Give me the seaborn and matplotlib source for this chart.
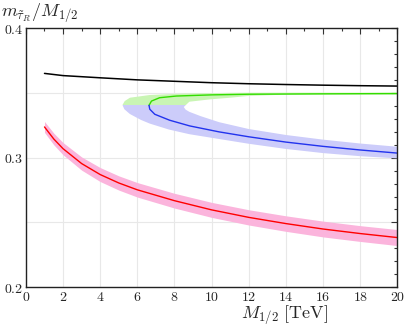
import numpy as np
import pandas as pd
import seaborn as sns
import matplotlib.pyplot as plt
from matplotlib.patches import Rectangle
from matplotlib.ticker import MultipleLocator, FuncFormatter

# black curve
black_x = [1, 2, 4, 6, 8, 10, 12, 14, 16, 18, 20]
black_y = [0.3652, 0.3635, 0.3618, 0.3602, 0.3591, 0.3580, 0.3572, 0.3566, 0.3561, 0.3557, 0.3554]

# red curve with pink band
red_x = [1, 1.5, 2, 3, 4, 5, 6, 8, 10, 12, 14, 16, 18, 20]
red_y = [0.3238, 0.3145, 0.3070, 0.2955, 0.2870, 0.2805, 0.2752, 0.2668, 0.2597,
         0.2539, 0.2491, 0.2449, 0.2414, 0.2383]
red_hi = [0.3280, 0.3190, 0.3117, 0.3006, 0.2924, 0.2860, 0.2808, 0.2725, 0.2655,
          0.2598, 0.2551, 0.2510, 0.2475, 0.2445]
red_lo = [0.3196, 0.3100, 0.3023, 0.2904, 0.2816, 0.2750, 0.2696, 0.2611, 0.2539,
          0.2480, 0.2431, 0.2388, 0.2353, 0.2321]

# green (upper) and blue (lower) branches of the folded curve
green_x = [20, 16, 12, 10, 8.1, 7.2, 6.76, 6.63]
green_y = [0.3496, 0.3494, 0.3491, 0.3486, 0.3477, 0.3464, 0.3438, 0.3405]
blue_x = [6.63, 6.67, 6.94, 7.74, 8.82, 10.4, 12, 14, 16, 18, 20]
blue_y = [0.3405, 0.3375, 0.3336, 0.3290, 0.3246, 0.3200, 0.3162, 0.3121, 0.3088, 0.3060, 0.3036]

# band around the folded curve: outer and inner edges
outer_top_x = [20, 14, 11, 8.5, 6.67, 5.6, 5.32, 5.2]
outer_top_y = [0.3503, 0.3503, 0.3502, 0.3496, 0.3485, 0.3464, 0.3438, 0.3408]
outer_bot_x = [5.2, 5.3, 5.6, 6.2, 6.67, 7.7, 8.8, 10.4, 12, 14, 16, 18, 20]
outer_bot_y = [0.3408, 0.3375, 0.3338, 0.3292, 0.3264, 0.3218, 0.3182, 0.3145, 0.3108,
               0.3068, 0.3036, 0.3012, 0.2995]
inner_bot_x = [20, 18, 16, 14, 12, 10.4, 9.4, 8.8, 8.6, 8.5]
inner_bot_y = [0.3085, 0.3110, 0.3140, 0.3176, 0.3222, 0.3275, 0.3322, 0.3355, 0.3372, 0.3392]
inner_top_x = [8.5, 8.8, 9.9, 11, 12, 14, 20]
inner_top_y = [0.3392, 0.3433, 0.3451, 0.3464, 0.3478, 0.3488, 0.3489]
split_y = 0.3405

sns.set_theme(style="white")
plt.rcParams["mathtext.fontset"] = "cm"
plt.rcParams["font.family"] = ["DejaVu Serif"]

fig = plt.figure(figsize=(4.05, 3.30), dpi=100)
ax = fig.add_axes([0.064, 0.130, 0.917, 0.784])

# grid
ax.set_xticks(np.arange(0, 21, 2))
ax.set_yticks(np.arange(0.2, 0.401, 0.05))
ax.grid(True, color="#e8e8e8", linewidth=0.8)
ax.set_axisbelow(True)

# pink band + red line
ax.fill_between(red_x, red_lo, red_hi, color="#fbb4dc", linewidth=0)
sns.lineplot(x=red_x, y=red_y, color="#ff0000", linewidth=1.0, ax=ax, sort=False)

# folded band, green above the split, blue below
poly_x = outer_top_x + outer_bot_x + inner_bot_x + inner_top_x
poly_y = outer_top_y + outer_bot_y + inner_bot_y + inner_top_y
for col, y0, y1 in [("#c9f5b4", split_y, 0.4), ("#ccccfa", 0.2, split_y)]:
    patch = ax.fill(poly_x, poly_y, color=col, linewidth=0)[0]
    clip = Rectangle((0, y0), 20, y1 - y0, transform=ax.transData)
    patch.set_clip_path(clip)

sns.lineplot(x=green_x, y=green_y, color="#33dd00", linewidth=1.0, ax=ax, sort=False)
sns.lineplot(x=blue_x, y=blue_y, color="#2233ee", linewidth=1.0, ax=ax, sort=False)
sns.lineplot(x=black_x, y=black_y, color="black", linewidth=1.1, ax=ax, sort=False)

ax.set_xlim(0, 20)
ax.set_ylim(0.2, 0.4)
ax.xaxis.set_minor_locator(MultipleLocator(1))
ax.yaxis.set_minor_locator(MultipleLocator(0.01))
ax.xaxis.set_major_formatter(FuncFormatter(lambda v, p: f"${v:g}$"))
ax.yaxis.set_major_formatter(FuncFormatter(
    lambda v, p: f"${v:.1f}$" if abs(v * 10 - round(v * 10)) < 1e-6 else ""))
ax.tick_params(which="both", direction="in", top=True, right=True,
               color="#333333", labelsize=10, pad=2)
ax.tick_params(which="major", length=4.5, width=0.8)
ax.tick_params(which="minor", length=2.5, width=0.8)
for s in ax.spines.values():
    s.set_color("#222222")
    s.set_linewidth(1.0)

ax.set_xlabel("")
ax.set_ylabel("")
fig.text(0.704, 0.045, r"$M_{1/2}\ [\mathrm{TeV}]$", fontsize=13, ha="center", va="center")
fig.text(0.003, 0.962, r"$m_{\tilde{\tau}_R}/M_{1/2}$", fontsize=13, ha="left", va="center")

fig.savefig("out.png", dpi=100)
